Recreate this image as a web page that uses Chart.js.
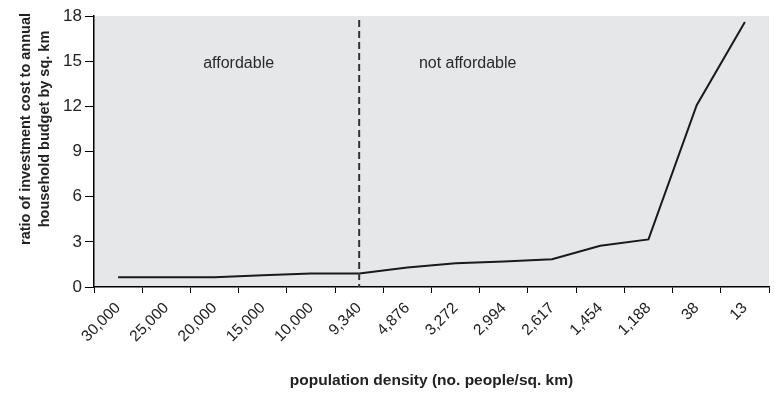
<!DOCTYPE html>
<html>
<head>
<meta charset="utf-8">
<script src="https://cdn.jsdelivr.net/npm/chart.js@4.4.1/dist/chart.umd.min.js"></script>
<style>
  html, body { margin: 0; padding: 0; background: #fff; }
</style>
</head>
<body>
<canvas id="density-chart" width="774" height="395"></canvas>
<script>
// 人口密度ごとの投資コスト比率
const densityLabels = ['30,000', '25,000', '20,000', '15,000', '10,000', '9,340', '4,876',
    '3,272', '2,994', '2,617', '1,454', '1,188', '38', '13'];
const ratioValues = [0.65, 0.65, 0.65, 0.78, 0.9, 0.9, 1.3, 1.57, 1.7, 1.84, 2.74, 3.16, 12.08, 17.6];
const yTickValues = [0, 3, 6, 9, 12, 15, 18];

// 区分線と区分ラベル
const thresholdIndex = 5;
const zoneLabels = ['affordable', 'not affordable'];
const zoneLabelX = [2.5, 7.25];
const zoneLabelY = 15;

const yTitleLines = ['ratio of investment cost to annual', 'household budget by sq. km'];
const xTitle = 'population density (no. people/sq. km)';

const FONT = '"Liberation Sans", Arial, sans-serif';

// プロット背景・区分線・タイトルを描くプラグイン
const decorPlugin = {
    id: 'decor',
    beforeDraw(chart) {
        const { ctx, chartArea } = chart;
        ctx.save();
        ctx.fillStyle = '#e6e7e9';
        ctx.fillRect(chartArea.left, chartArea.top, chartArea.right - chartArea.left, chartArea.bottom - chartArea.top);
        ctx.restore();
    },
    afterDatasetsDraw(chart) {
        const { ctx, chartArea, scales } = chart;
        const xPos = scales.x.getPixelForValue(thresholdIndex);

        ctx.save();
        ctx.strokeStyle = '#333';
        ctx.lineWidth = 2;
        ctx.setLineDash([7, 4]);
        ctx.beginPath();
        ctx.moveTo(xPos, chartArea.top + 4);
        ctx.lineTo(xPos, chartArea.bottom);
        ctx.stroke();
        ctx.setLineDash([]);

        ctx.fillStyle = '#2a2a2a';
        ctx.font = '16px ' + FONT;
        ctx.textAlign = 'center';
        ctx.textBaseline = 'middle';
        zoneLabels.forEach((label, i) => {
            ctx.fillText(label, scales.x.getPixelForValue(zoneLabelX[i]), scales.y.getPixelForValue(zoneLabelY) + 2);
        });

        // 縦軸タイトル
        ctx.fillStyle = '#222';
        ctx.font = 'bold 14.5px ' + FONT;
        ctx.translate(0, 129);
        ctx.rotate(-Math.PI / 2);
        ctx.fillText(yTitleLines[0], 0, 26);
        ctx.fillText(yTitleLines[1], 0, 45);
        ctx.restore();

        // 横軸タイトル
        ctx.save();
        ctx.fillStyle = '#222';
        ctx.font = 'bold 15.5px ' + FONT;
        ctx.textAlign = 'center';
        ctx.textBaseline = 'middle';
        ctx.fillText(xTitle, (chartArea.left + chartArea.right) / 2, 381);
        ctx.restore();
    }
};

new Chart(document.getElementById('density-chart'), {
    type: 'line',
    data: {
        labels: densityLabels,
        datasets: [{
            data: ratioValues,
            borderColor: '#1a1a1a',
            borderWidth: 2,
            pointRadius: 0,
            tension: 0,
            fill: false
        }]
    },
    options: {
        responsive: false,
        animation: false,
        devicePixelRatio: 1,
        layout: {
            padding: { top: 16, right: 5, left: 0, bottom: 0 }
        },
        plugins: {
            legend: { display: false },
            tooltip: { enabled: false }
        },
        scales: {
            x: {
                type: 'category',
                offset: true,
                grid: {
                    display: true,
                    offset: true,
                    drawOnChartArea: false,
                    tickLength: 6,
                    color: '#000'
                },
                border: { display: true, color: '#000', width: 1.5 },
                ticks: {
                    minRotation: 45,
                    maxRotation: 45,
                    color: '#222',
                    padding: 6,
                    font: { family: FONT, size: 15.5 }
                },
                afterFit(scale) {
                    scale.height = 108;
                }
            },
            y: {
                min: 0,
                max: 18,
                afterBuildTicks(scale) {
                    scale.ticks = yTickValues.map(v => ({ value: v }));
                },
                grid: {
                    display: true,
                    drawOnChartArea: false,
                    tickLength: 9,
                    color: '#000'
                },
                border: { display: true, color: '#000', width: 1.5 },
                ticks: {
                    color: '#222',
                    padding: 3,
                    font: { family: FONT, size: 17 }
                },
                afterFit(scale) {
                    scale.width = 94;
                }
            }
        }
    },
    plugins: [decorPlugin]
});
</script>
</body>
</html>
